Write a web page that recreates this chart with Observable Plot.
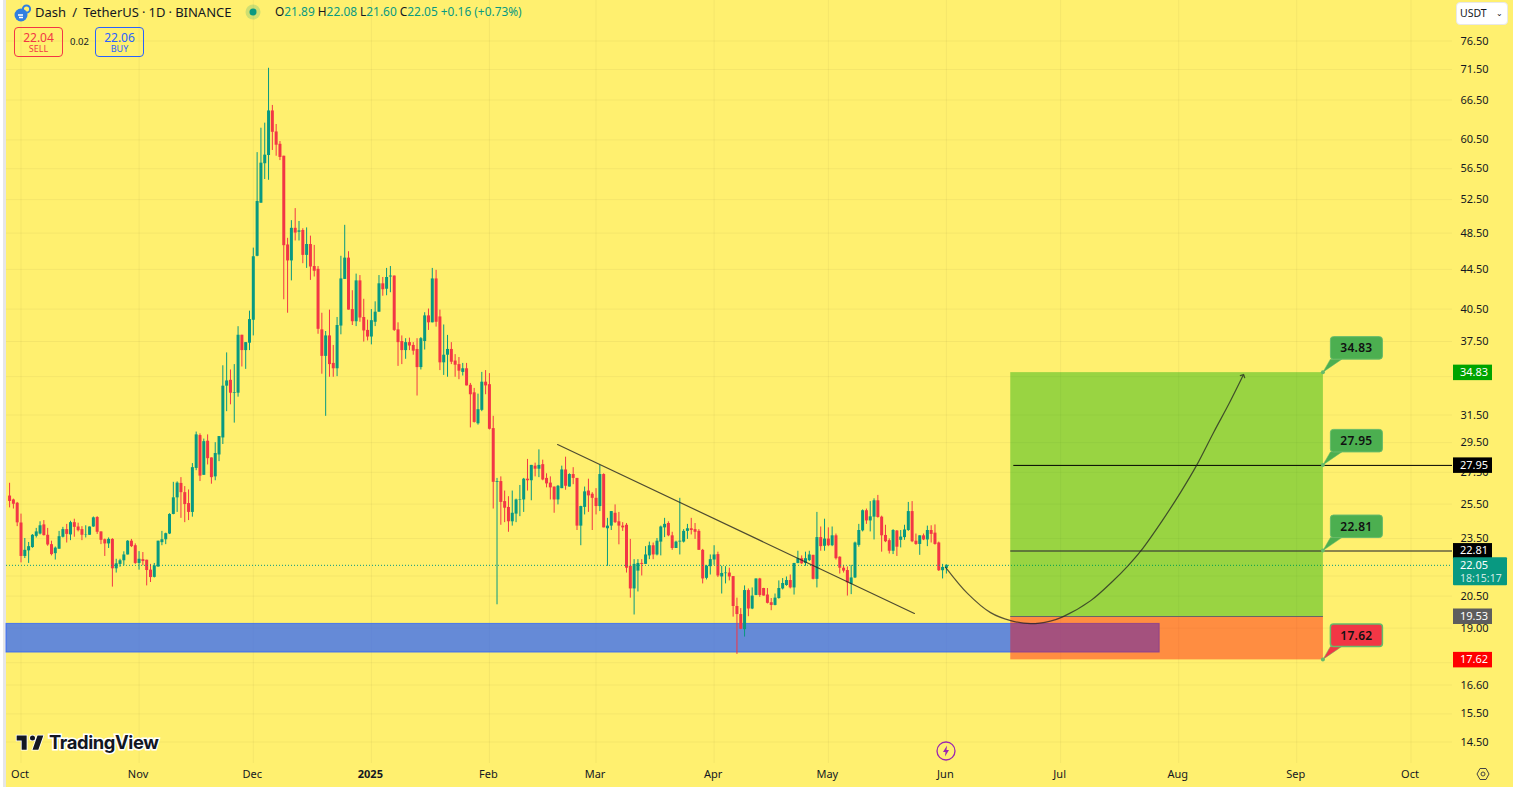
<!DOCTYPE html>
<html>
<head>
<meta charset="utf-8">
<script src="https://cdn.jsdelivr.net/npm/d3@7"></script>
<script src="https://cdn.jsdelivr.net/npm/@observablehq/plot@0.6"></script>
<style>
html,body{margin:0;padding:0;background:#fff;overflow:hidden}
#stage{position:relative;width:1513px;height:793px;overflow:hidden;font-family:"Noto Sans",sans-serif;color:#131722}
#panel{position:absolute;left:6px;top:0;width:1507px;height:787px;background:#FFF06F}
#strip{position:absolute;left:3px;top:0;width:3px;height:787px;background:#e6e6e6}
#stage svg.plot{position:absolute;left:0;top:0}
.ov{position:absolute;white-space:nowrap;line-height:1}
.box{position:absolute;box-sizing:border-box;border:1px solid;border-radius:4px;text-align:center;width:49px;height:30px;top:27px}
.box b{display:block;font-weight:400;font-size:12px;line-height:13px;margin-top:3px}
.box i{display:block;font-style:normal;font-size:9px;line-height:10px}
</style>
</head>
<body>
<div id="stage">
  <div id="panel"></div><div id="strip"></div>
  <svg class="ov" style="left:14px;top:4px" width="18" height="18" viewBox="0 0 18 18"><circle cx="7" cy="11" r="6.5" fill="#2f7fe0"/><circle cx="12.5" cy="5" r="3.6" fill="none" stroke="#2f7fe0" stroke-width="2"/><path d="M4 11h5M5 13.5h4" stroke="#fff" stroke-width="1.3"/></svg>
  <div class="ov" style="left:35px;top:6px;font-size:13px;word-spacing:-.3px">Dash&nbsp; /&nbsp; TetherUS · 1D · BINANCE</div>
  <svg class="ov" style="left:245px;top:4px" width="16" height="16"><circle cx="8" cy="8" r="7.5" fill="#089981" opacity=".2"/><circle cx="8" cy="8" r="3.5" fill="#089981"/></svg>
  <div class="ov" style="left:275px;top:6px;font-size:11.9px;color:#089981"><span style="color:#131722">O</span>21.89 <span style="color:#131722">H</span>22.08 <span style="color:#131722">L</span>21.60 <span style="color:#131722">C</span>22.05 +0.16 (+0.73%)</div>
  <div class="box" style="left:14px;border-color:#F23645;color:#F23645"><b>22.04</b><i>SELL</i></div>
  <div class="ov" style="left:70px;top:37px;font-size:9.5px">0.02</div>
  <div class="box" style="left:95px;border-color:#2962FF;color:#2962FF"><b>22.06</b><i>BUY</i></div>
  <div class="ov" style="left:1456px;top:2px;width:52px;height:23px;background:#fff;border:1px solid #e8e8e8;border-radius:4px;box-sizing:border-box;font-size:10.5px;line-height:21px;padding-left:3px">USDT<span style="position:absolute;right:4px;top:-1px;font-size:8px">⌄</span></div>
  <svg class="ov" style="left:15px;top:733px;overflow:visible" width="30" height="20" viewBox="0 0 36 24"><path d="M14 3H2v6h6v11h6V3zm14 17h-7l6-17h7l-6 17zm-7-11a3 3 0 1 0 0-6 3 3 0 0 0 0 6z" fill="#131722" stroke="#fff" stroke-width="2" paint-order="stroke"/></svg>
  <div class="ov" style="left:49px;top:733px;font-family:Inter,sans-serif;font-weight:700;font-size:18.4px;letter-spacing:-.4px;color:#131722;-webkit-text-stroke:3px #fff;paint-order:stroke fill">TradingView</div>
  <svg class="ov" style="left:936px;top:741px" width="20" height="20"><circle cx="10" cy="10" r="9" fill="#FFF06F" stroke="#9C27B0" stroke-width="1.3"/><path d="M11 4.5 7 11h2.5L9 15.5 13 9h-2.5z" fill="#9C27B0"/></svg>
  <svg class="ov" style="left:1476px;top:767px" width="14" height="14" viewBox="0 0 14 14"><path d="M4 1.5h6L13 7l-3 5.5H4L1 7z" fill="none" stroke="#444" stroke-width="1"/><circle cx="7" cy="7" r="2" fill="none" stroke="#444"/></svg>
</div>
<script>
// Daily candles, 28 Sep 2024 to 1 Jun 2025
const opens = [
25.99,25.75,25.55,24.38,22.52,22.82,23.0,23.62,23.75,24.27,
23.68,23.16,22.67,22.91,23.57,24.0,23.7,24.4,24.15,24.0,
23.68,23.68,24.15,24.7,23.87,23.43,23.2,23.45,21.87,22.1,
22.29,22.6,23.35,23.1,22.15,22.35,22.32,21.8,21.43,21.96,
23.27,23.43,23.75,24.88,25.88,26.78,26.2,25.53,25.0,27.75,
30.0,27.3,29.6,28.45,27.2,28.65,29.83,33.73,34.2,33.17,
33.17,38.06,36.7,37.35,39.44,45.9,52.06,57.17,58.3,64.8,
61.65,59.87,58.2,47.15,45.4,49.05,48.6,48.8,46.0,47.2,
44.8,44.5,38.55,36.2,38.0,35.6,35.15,38.9,43.45,45.7,
40.45,39.3,43.3,39.7,38.5,37.9,39.25,40.2,43.0,42.45,
43.7,43.8,38.55,37.5,36.7,37.4,37.15,36.8,35.25,37.5,
39.85,39.2,43.5,39.75,35.65,36.3,36.8,35.8,35.5,34.85,
35.15,33.8,33.2,30.85,31.85,34.05,33.85,30.5,26.85,26.9,
25.65,25.3,24.45,24.9,25.72,25.75,27.05,26.95,27.9,27.7,
28.0,27.1,26.8,26.55,25.75,26.45,27.65,26.55,27.35,27.1,
24.2,25.3,26.3,26.1,25.85,25.35,27.35,24.05,24.2,24.95,
24.45,24.2,24.25,22.0,20.85,21.75,22.15,22.1,22.55,23.1,
22.6,23.3,24.1,24.35,23.65,22.95,23.3,23.3,23.9,24.05,
24.0,23.9,22.85,21.38,21.98,22.33,22.62,21.45,21.62,21.65,
21.47,20.0,19.62,18.93,20.77,19.88,20.53,21.35,20.87,20.55,
20.18,20.05,20.38,20.85,21.02,21.27,20.9,22.15,22.4,22.15,
22.3,22.58,21.33,23.55,23.07,23.47,23.1,23.65,22.48,21.9,
21.78,21.08,21.4,23.12,23.93,25.1,24.5,24.72,25.7,24.72,
23.67,23.38,22.8,23.92,23.4,23.55,23.95,25.05,23.35,23.17,
23.65,23.42,23.95,23.8,23.25,21.77,21.89];
const highs = [
26.79,25.8,25.6,24.9,23.5,23.28,23.72,24.07,24.45,24.52,
24.07,23.35,23.03,23.9,24.13,24.3,24.48,24.6,24.37,24.17,
24.22,24.15,24.73,24.75,23.87,23.47,23.53,23.49,22.37,22.37,
22.77,23.38,23.45,23.2,22.78,22.73,22.32,22.1,22.15,23.35,
23.9,23.8,24.92,26.85,26.88,27.15,26.58,26.37,28.07,30.25,
30.12,29.75,30.05,28.45,29.5,29.93,35.4,36.5,35.05,35.5,
38.84,38.06,37.4,40.3,46.8,58.7,62.2,62.95,71.7,65.65,
62.75,60.26,58.2,47.9,49.95,51.4,49.85,49.0,49.1,48.15,
47.1,44.8,40.1,38.4,40.4,37.15,39.7,45.9,49.4,46.4,
42.3,44.0,43.85,41.45,39.45,40.45,41.2,43.85,43.65,44.6,
44.8,43.8,39.2,38.0,37.75,37.8,37.4,37.75,37.85,40.15,
40.5,44.6,44.4,40.4,39.0,38.05,37.4,36.35,36.1,35.6,
35.6,33.95,33.55,33.1,34.85,35.0,34.75,31.4,27.1,27.2,
26.3,25.95,26.3,25.8,26.65,27.1,28.35,27.95,28.1,29.0,
28.3,27.4,27.2,26.55,26.65,27.9,28.5,27.4,27.8,27.1,
25.37,26.55,27.05,26.2,26.45,27.95,27.4,24.65,25.05,25.45,
25.0,24.4,24.35,23.45,22.35,22.35,22.35,23.05,23.3,23.25,
23.5,24.2,24.65,24.45,23.85,23.35,25.85,24.0,24.3,24.65,
24.35,24.0,22.9,22.05,22.6,23.1,22.75,22.0,21.98,21.9,
21.47,20.4,19.9,21.0,20.85,20.9,21.35,21.38,20.88,20.87,
20.38,20.6,21.25,21.37,21.45,21.55,22.15,22.8,22.55,22.75,
22.8,22.58,25.0,24.15,24.6,24.1,24.15,23.75,22.5,22.05,
21.97,22.05,23.3,24.3,25.15,25.2,25.65,25.82,26.03,24.78,
24.25,23.48,24.0,23.95,23.95,24.25,25.6,25.65,23.75,23.65,
23.75,24.2,24.22,24.27,23.3,22.1,22.08];
const lows = [
25.27,25.2,24.17,22.18,22.41,22.15,22.96,23.53,23.7,23.64,
23.07,22.55,22.33,22.91,23.53,23.25,23.38,23.57,23.87,23.38,
23.53,23.68,24.13,23.73,23.16,22.52,22.95,20.94,21.65,21.95,
22.02,22.6,23.0,22.1,21.8,22.03,21.0,21.17,21.4,21.96,
23.1,23.16,23.72,24.86,25.0,24.65,24.4,24.52,24.72,27.6,
26.9,27.3,27.98,26.73,26.95,28.2,29.37,31.75,32.27,30.9,
32.86,35.3,35.1,36.7,38.0,45.85,52.06,55.07,54.97,59.0,
58.2,57.6,41.4,40.1,43.3,47.6,47.6,45.1,44.6,43.35,
43.7,38.15,34.7,31.4,34.45,34.45,34.5,38.1,43.45,40.4,
38.95,38.85,39.25,37.45,37.55,37.2,38.85,40.2,41.75,41.8,
42.1,38.4,35.35,35.5,35.95,36.7,36.3,32.95,35.05,36.75,
38.5,39.2,38.8,35.0,34.6,34.45,35.5,34.45,34.25,34.55,
33.75,30.55,30.9,30.75,31.75,33.05,30.4,25.2,20.08,24.25,
24.4,23.85,24.2,24.4,24.75,25.0,26.3,25.7,27.2,27.15,
26.95,26.5,25.75,24.95,25.45,26.45,26.35,26.55,26.7,23.95,
23.1,24.85,25.0,23.95,24.85,25.05,24.1,22.0,23.95,24.35,
23.15,23.9,21.65,20.4,19.6,20.7,21.5,22.1,22.35,22.35,
22.55,22.55,23.55,23.6,22.85,22.95,22.6,23.25,23.45,23.7,
23.45,22.85,21.1,21.3,21.55,22.05,21.42,20.6,21.1,21.25,
19.5,17.85,18.93,18.6,19.52,19.85,20.52,20.44,20.5,20.12,
19.8,20.03,20.35,20.8,20.98,20.85,20.55,22.13,22.1,22.0,
22.25,21.3,20.9,22.8,22.8,23.05,23.05,22.33,21.6,21.65,
20.5,20.57,21.37,23.02,23.87,24.3,23.87,23.42,24.66,22.75,
23.27,22.65,22.62,22.52,22.98,23.4,23.9,23.27,23.12,22.58,
23.38,23.05,23.25,23.13,21.73,21.35,21.6];
const closes = [
25.66,25.49,24.39,22.52,22.85,23.05,23.68,23.87,24.22,23.66,
23.14,22.62,22.97,23.6,24.0,23.73,24.4,24.13,23.94,23.68,
23.7,24.15,24.68,23.85,23.4,23.2,23.45,21.87,22.13,22.29,
22.6,23.35,23.05,22.15,22.37,22.25,21.78,21.42,22.02,23.35,
23.43,23.77,24.88,25.88,26.8,26.2,25.47,25.0,27.8,30.05,
27.25,29.57,28.4,27.15,28.75,29.93,33.73,34.15,33.17,33.22,
38.06,36.7,37.4,39.5,45.85,52.27,57.25,58.35,64.8,61.6,
59.74,58.03,47.07,45.4,49.05,48.5,48.75,46.0,47.2,44.75,
44.3,38.6,36.2,38.0,35.5,35.15,38.95,43.5,45.7,40.4,
39.3,43.3,39.65,38.45,37.9,39.4,40.2,43.0,42.4,43.65,
43.8,38.5,37.4,36.7,37.4,37.1,36.65,35.25,37.75,39.85,
39.2,43.5,39.25,35.65,36.3,36.8,35.7,35.45,34.95,35.15,
33.75,33.05,30.95,31.9,34.05,33.75,30.45,26.85,26.9,25.6,
25.25,24.45,24.95,25.75,25.75,27.05,26.95,27.95,27.7,27.95,
27.0,26.75,26.5,25.75,26.6,27.65,26.6,27.35,27.1,24.2,
25.35,26.25,26.0,25.85,25.35,27.35,24.1,24.2,25.05,24.4,
24.2,24.1,21.9,20.85,22.1,22.15,22.1,22.6,23.1,22.6,
23.35,24.15,24.3,23.65,22.95,23.3,23.35,23.9,24.05,23.95,
23.85,22.85,21.35,22.0,22.35,22.6,21.5,21.63,21.65,21.45,
20.0,19.62,18.95,20.77,19.88,20.5,21.35,20.53,20.5,20.15,
20.05,20.4,20.87,21.12,21.27,20.9,22.15,22.4,22.13,22.4,
22.6,21.33,23.55,23.05,23.47,23.1,23.65,22.4,21.9,21.75,
21.15,21.4,23.25,23.95,25.1,24.5,24.74,25.7,24.7,23.65,
23.32,22.8,23.95,23.02,23.58,23.98,25.05,23.32,23.17,23.65,
23.42,23.95,23.73,23.17,21.77,21.94,22.05];

const firstCandleDay = -3;           // days from 1 Oct 2024
const priceLabels = [76.5,71.5,66.5,60.5,56.5,52.5,48.5,44.5,40.5,37.5,31.5,29.5,27.5,25.5,23.5,20.5,19,17.5,16.6,15.5,14.5];
const hiddenGridPrices = [34.5,21.5];
const monthNames = ["Oct","Nov","Dec","2025","Feb","Mar","Apr","May","Jun","Jul","Aug","Sep","Oct"];
const monthDays = [0,31,61,92,123,151,182,212,243,273,304,335,365];

const lastPrice = 22.05, countdown = "18:15:17";
const target = 34.83, midUpper = 27.95, midLower = 22.81, entry = 19.53, stop = 17.62;
const zoneDays = [259.9, 342];       // long position box
const supportTop = 19.19, supportBottom = 17.93, supportEndDay = 299;
const trendDays = [140.9, 234.6], trendPrices = [29.37, 19.67];
const midUpperStartDay = 260.7;
const pathDays = [242.8,248.6,254.6,259.9,265.1,270.3,273.4,280.9,286.6,290.8,294,299.7,304.5,308.7,313.2,317.2,320.9];
const pathPrices = [21.95,20.62,19.71,19.34,19.2,19.32,19.5,20.28,21.22,22.05,22.8,24.52,26.22,27.95,30.24,32.35,34.59];

// ---- derived tables
const dayAt = n => new Date(Date.UTC(2024, 9, 1) + n * 864e5);
const candles = opens.map((o, i) => ({date: dayAt(i + firstCandleDay), o, h: highs[i], l: lows[i], c: closes[i]}));
const up = candles.filter(d => d.c >= d.o), down = candles.filter(d => d.c < d.o);
const months = monthDays.map(dayAt);
const nameOf = new Map(months.map((d, i) => [+d, monthNames[i]]));
const yearTick = months.filter((d, i) => monthNames[i] === "2025");
const monthTicks = months.filter((d, i) => monthNames[i] !== "2025");
const path = pathDays.map((d, i) => ({x: dayAt(d), y: pathPrices[i]}));

const UP = "#089981", DOWN = "#F23645", BLUE = "#2962FF";
const DOMAIN_L = dayAt(-3.81), DOMAIN_R = dayAt(375.9);
const axisFont = {fontSize: 11, fill: "#131722", fontFamily: '"Noto Sans",sans-serif'};

// callouts over the right edge of the box
function callouts(index, {x, y}) {
  const g = d3.create("svg:g").attr("font-family", '"Noto Sans",sans-serif');
  const px = x(dayAt(zoneDays[1]));
  for (const v of [target, midUpper, midLower, stop]) {
    const py = y(v), col = v === stop ? DOWN : "#4CAF50";
    g.append("path").attr("fill", col).attr("stroke", "#66BB6A").attr("stroke-width", .5)
      .attr("d", `M${px},${py}L${px+7.5},${py-13}L${px+19},${py-13}Z`);
    g.append("rect").attr("x", px + 7.5).attr("y", py - 35.5).attr("width", 52).attr("height", 22.5).attr("rx", 3)
      .attr("fill", col).attr("stroke", "#66BB6A").attr("stroke-width", v === stop ? 1.5 : 1);
    g.append("circle").attr("cx", px).attr("cy", py).attr("r", 2).attr("fill", "#66BB6A");
    g.append("text").attr("x", px + 33.5).attr("y", py - 24).attr("dy", "0.35em").attr("text-anchor", "middle")
      .attr("font-size", 12).attr("font-weight", 600).attr("letter-spacing", .3).attr("fill", "#111").text(v.toFixed(2));
  }
  return g.node();
}
// price tags on the axis
function tags(index, {y}, values, dims) {
  const g = d3.create("svg:g").attr("font-family", '"Noto Sans",sans-serif').attr("font-size", 11).attr("text-anchor", "start");
  const x0 = dims.width - dims.marginRight + 1;
  const list = [[target, "#00A400"], [midUpper, "#000"], [midLower, "#000"], [entry, "#5D5D5D"], [stop, "#FF0000"]];
  for (const [v, col] of list) {
    g.append("rect").attr("x", x0).attr("y", y(v) - 7.5).attr("width", 39).attr("height", 15.5).attr("fill", col);
    g.append("text").attr("x", x0 + 7).attr("y", y(v)).attr("dy", "0.35em").attr("fill", "#fff").text(v.toFixed(2));
  }
  const py = y(lastPrice);
  g.append("rect").attr("x", x0).attr("y", py - 7.5).attr("width", 54).attr("height", 28).attr("rx", 1).attr("fill", UP);
  g.append("text").attr("x", x0 + 7).attr("y", py).attr("dy", "0.35em").attr("fill", "#fff").text(lastPrice.toFixed(2));
  g.append("text").attr("x", x0 + 7).attr("y", py + 13).attr("dy", "0.35em").attr("fill", "#fff").attr("fill-opacity", .8).attr("font-size", 10.5).text(countdown);
  return g.node();
}

const chart = Plot.plot({
  width: 1513, height: 793,
  marginLeft: 6, marginRight: 61, marginTop: 0, marginBottom: 30,
  style: {background: "transparent", overflow: "visible"},
  x: {type: "utc", domain: [DOMAIN_L, DOMAIN_R]},
  y: {type: "log", domain: [13.78, 84.21]},
  marks: [
    Plot.gridX(months, {stroke: "#000", strokeOpacity: .045}),
    Plot.gridY(priceLabels.concat(hiddenGridPrices), {stroke: "#000", strokeOpacity: .045}),
    Plot.axisY(priceLabels, {anchor: "right", tickSize: 0, tickPadding: 8, textAnchor: "start", tickFormat: d3.format(".2f"), label: null, ...axisFont}),
    Plot.axisX(monthTicks, {anchor: "bottom", tickSize: 0, tickPadding: 7, dx: -1, tickFormat: d => nameOf.get(+d), label: null, ...axisFont}),
    Plot.axisX(yearTick, {anchor: "bottom", tickSize: 0, tickPadding: 7, dx: -1, tickFormat: d => nameOf.get(+d), label: null, fontWeight: "bold", ...axisFont}),
    // support band
    Plot.rect([0], {x1: () => DOMAIN_L, x2: () => dayAt(supportEndDay), y1: () => supportBottom, y2: () => supportTop, fill: BLUE, fillOpacity: .72, stroke: BLUE, strokeWidth: 1, strokeOpacity: .75}),
    // candles
    Plot.ruleX(up, {x: "date", y1: "l", y2: "h", stroke: UP, strokeWidth: 1}),
    Plot.ruleX(down, {x: "date", y1: "l", y2: "h", stroke: DOWN, strokeWidth: 1}),
    Plot.ruleX(up, {x: "date", y1: "o", y2: "c", stroke: UP, strokeWidth: 3}),
    Plot.ruleX(down, {x: "date", y1: "o", y2: "c", stroke: DOWN, strokeWidth: 3}),
    // last price
    Plot.ruleY([lastPrice], {stroke: UP, strokeWidth: 1, strokeDasharray: "1,2", x1: () => DOMAIN_L, x2: () => DOMAIN_R}),
    // position box
    Plot.rect([0], {x1: () => dayAt(zoneDays[0]), x2: () => dayAt(zoneDays[1]), y1: () => entry, y2: () => target, fill: "#00AA00", fillOpacity: .40}),
    Plot.rect([0], {x1: () => dayAt(zoneDays[0]), x2: () => dayAt(zoneDays[1]), y1: () => stop, y2: () => entry, fill: "#FF0000", fillOpacity: .41}),
    Plot.ruleY([entry], {x1: () => dayAt(zoneDays[0]), x2: () => dayAt(zoneDays[1]), stroke: "#666", strokeWidth: 1}),
    Plot.ruleY([midUpper], {x1: () => dayAt(midUpperStartDay), x2: () => DOMAIN_R, stroke: "#000", strokeWidth: 1}),
    Plot.ruleY([midLower], {x1: () => dayAt(zoneDays[0]), x2: () => DOMAIN_R, stroke: "#333", strokeOpacity: .75, strokeWidth: 1.5}),
    // drawings
    Plot.line(trendDays.map((d, i) => ({x: dayAt(d), y: trendPrices[i]})), {x: "x", y: "y", stroke: "#222", strokeOpacity: .8, strokeWidth: 1.2}),
    Plot.line(path, {x: "x", y: "y", curve: "catmull-rom", stroke: "#222", strokeOpacity: .75, strokeWidth: 1.2, markerEnd: "arrow"}),
    callouts,
    tags
  ]
});
chart.setAttribute("class", (chart.getAttribute("class") || "") + " plot");
document.getElementById("stage").insertBefore(chart, document.getElementById("strip").nextSibling);
</script>
</body>
</html>
